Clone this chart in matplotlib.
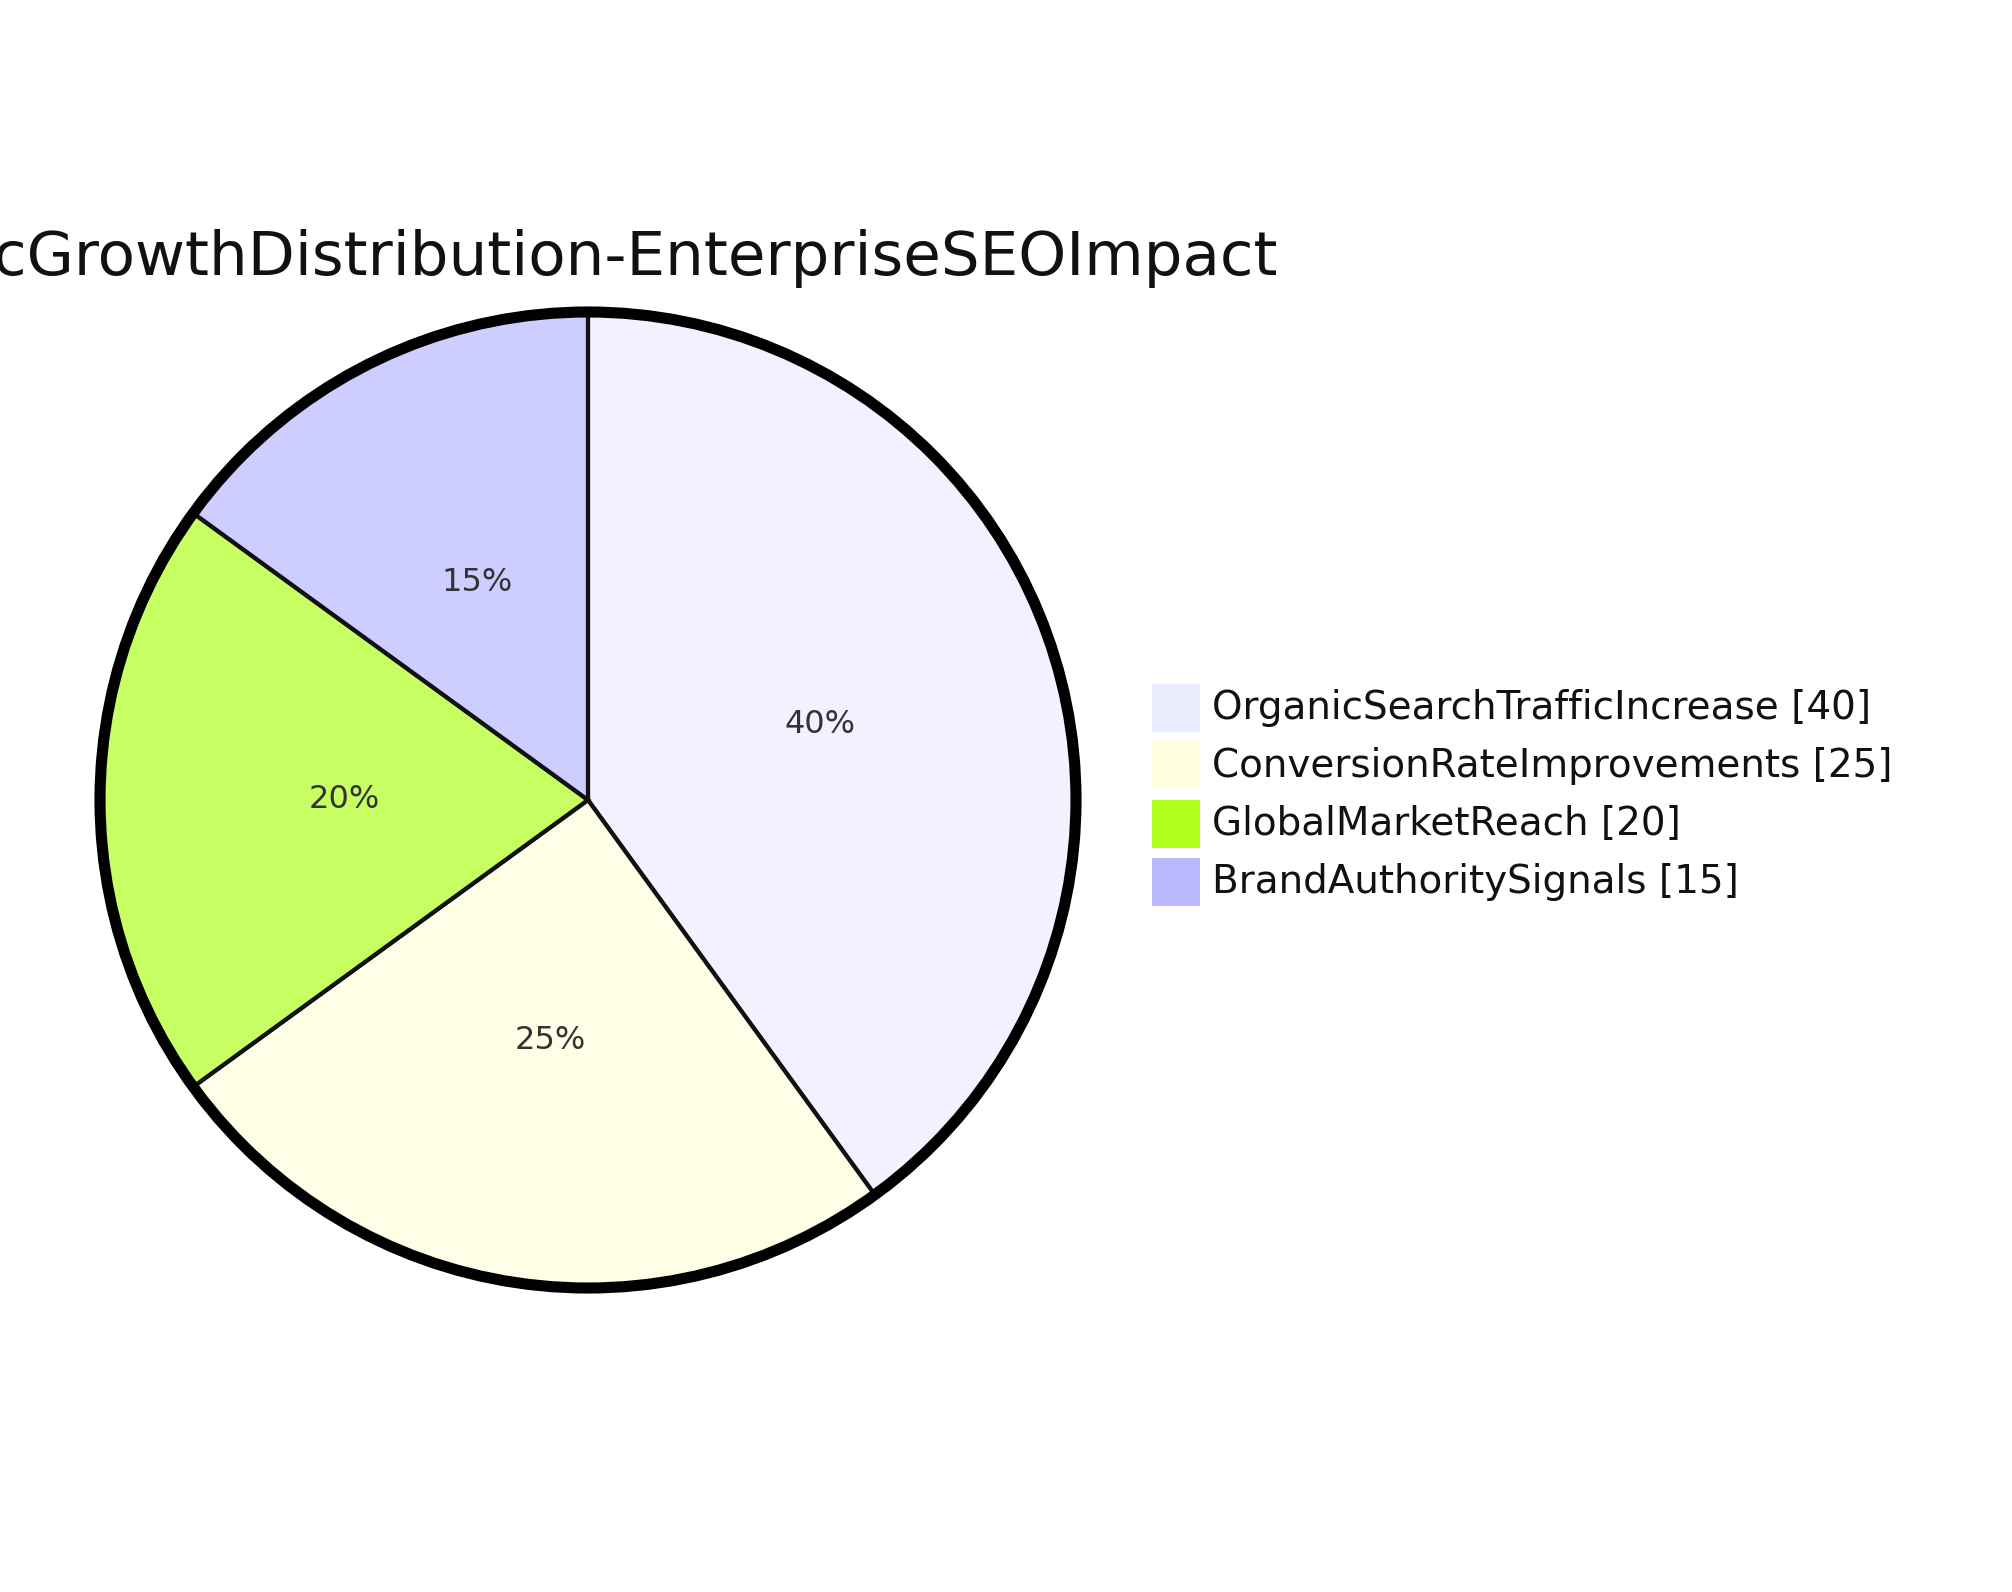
import matplotlib.pyplot as plt
from matplotlib.patches import Circle, Rectangle

labels = ['OrganicSearchTrafficIncrease', 'ConversionRateImprovements',
          'GlobalMarketReach', 'BrandAuthoritySignals']
values = [40, 25, 20, 15]
colors = ['#ececff', '#ffffde', '#b0ff1f', '#b9b9ff']
title = 'TrafficGrowthDistribution-EnterpriseSEOImpact'

W, H = 2012, 1592
fig = plt.figure(figsize=(W / 100, H / 100), dpi=100)
ax = fig.add_axes([0, 0, 1, 1])

cx, cy, r = 588, 800, 488
# y axis is inverted below, so data-counterclockwise from -90 shows clockwise from top
wedges, texts, autotexts = ax.pie(
    values, colors=colors, startangle=-90, counterclock=True,
    center=(cx, cy), radius=r, autopct='%1.0f%%', pctdistance=0.5,
    wedgeprops=dict(edgecolor='#111111', linewidth=3),
    textprops=dict(fontsize=23, color='#333333'))
for w in wedges:
    w.set_facecolor(w.get_facecolor()[:3] + (0.7,))
ax.add_patch(Circle((cx, cy), r, fill=False, edgecolor='black', linewidth=8))

ax.set_xlim(0, W)
ax.set_ylim(H, 0)
ax.set_aspect('equal')
ax.axis('off')

ax.text(1278, 275, title, ha='right', va='baseline', fontsize=44, color='#111111')

for i, (lab, val, col) in enumerate(zip(labels, values, colors)):
    y = 708 + i * 58
    ax.add_patch(Rectangle((1152, y - 24), 48, 48, facecolor=col, edgecolor='none'))
    ax.text(1212, y, f'{lab} [{val}]', va='center', fontsize=28, color='#111111')

fig.savefig('out.png', dpi=100)
